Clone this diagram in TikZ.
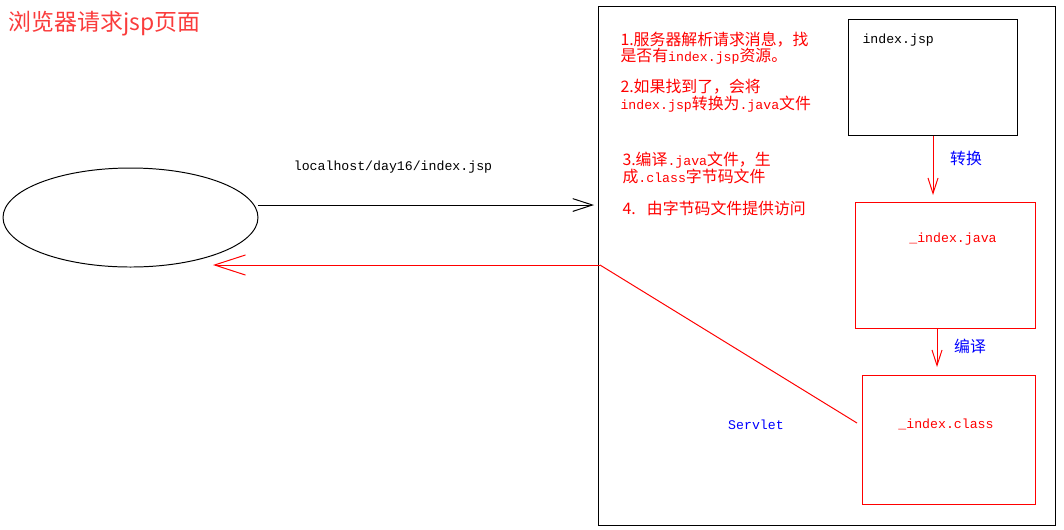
\documentclass[tikz,border=0pt]{standalone}
\usepackage{fontspec}
\setmonofont{Liberation Mono}
\newfontfamily\cjk{Noto Sans CJK SC}
\usetikzlibrary{arrows.meta,shapes.geometric}
\definecolor{notered}{RGB}{255,0,0}
\definecolor{titlered}{RGB}{250,60,60}
\definecolor{labelblue}{RGB}{0,0,255}
\newcommand\mono[1]{{\fontsize{9.4}{12}\selectfont\ttfamily #1}}

\begin{document}
\begin{tikzpicture}[x=0.025cm, y=-0.025cm,
  line width=0.7pt,
  frame/.style={draw, rectangle, inner sep=0pt},
  redframe/.style={frame, draw=notered},
  note/.style={anchor=north west, inner sep=0pt, align=left, text=notered,
    font=\cjk\fontsize{11.3}{12}\selectfont},
  tag/.style={inner sep=0pt, text=labelblue, font=\cjk\fontsize{11.3}{12}\selectfont},
  code/.style={inner sep=0pt, font=\fontsize{9.4}{12}\selectfont\ttfamily},
  barb/.style={-{Straight Barb[length=#1, width=0.65*#1]}},
  barb/.default=11pt
]
  \useasboundingbox (0,0) rectangle (1064,529);

  \node[anchor=west, inner sep=0pt, text=titlered,
    font=\cjk\fontsize{16.3}{18}\selectfont] (title) at (8,24) {浏览器请求jsp页面};

  % browser and server
  \node[draw, ellipse, minimum width=255*0.025cm, minimum height=99*0.025cm,
    inner sep=0pt] (client) at (130.5,217.5) {};
  \node[frame, minimum width=457*0.025cm, minimum height=519*0.025cm] (server) at (826.5,265.5) {};

  \coordinate (reqend) at (594,205);
  \coordinate (retstart) at (600,265);
  \coordinate (rettip) at (213,265);
  \coordinate (svend) at (857,423);
  \draw[barb=14pt] (client.east |- reqend) -- (reqend);
  \node[code] (url) at (393,167) {localhost/day16/index.jsp};
  \draw[barb=22pt, notered] (retstart) -- (rettip);
  \draw[notered] (retstart) -- (svend);
  \node[code, text=labelblue] (servlet) at (756,425) {Servlet};

  % steps
  \node[note] (step1) at (620,31) {1.服务器解析请求消息，找\\是否有\mono{index.jsp}资源。};
  \node[note] (step2) at (620,79) {2.如果找到了，会将\\\mono{index.jsp}转换为\mono{.java}文件};
  \node[note] (step3) at (622,152) {3.编译\mono{.java}文件，生\\成\mono{.class}字节码文件};
  \node[note] (step4) at (622,201) {4.\hspace{8pt}由字节码文件提供访问};

  % files
  \node[frame, minimum width=169*0.025cm, minimum height=116*0.025cm] (jsp) at (932.5,77.5) {};
  \node[code, anchor=west] (jsptext) at (862,40) {index.jsp};
  \node[redframe, minimum width=180*0.025cm, minimum height=126*0.025cm] (java) at (945,265) {};
  \node[code, text=notered] (javatext) at (953,239) {\_index.java};
  \node[redframe, minimum width=173*0.025cm, minimum height=129*0.025cm] (class) at (948.5,439.5) {};
  \node[code, text=notered] (classtext) at (946,424) {\_index.class};

  \coordinate (javaarrow) at (933,195);
  \coordinate (classarrow) at (937,367);
  \draw[barb, notered] (jsp.south -| javaarrow) -- (javaarrow);
  \node[tag] (convert) at (966,158) {转换};
  \draw[barb, notered] (java.south -| classarrow) -- (classarrow);
  \node[tag] (compile) at (970,346) {编译};
\end{tikzpicture}
\end{document}
